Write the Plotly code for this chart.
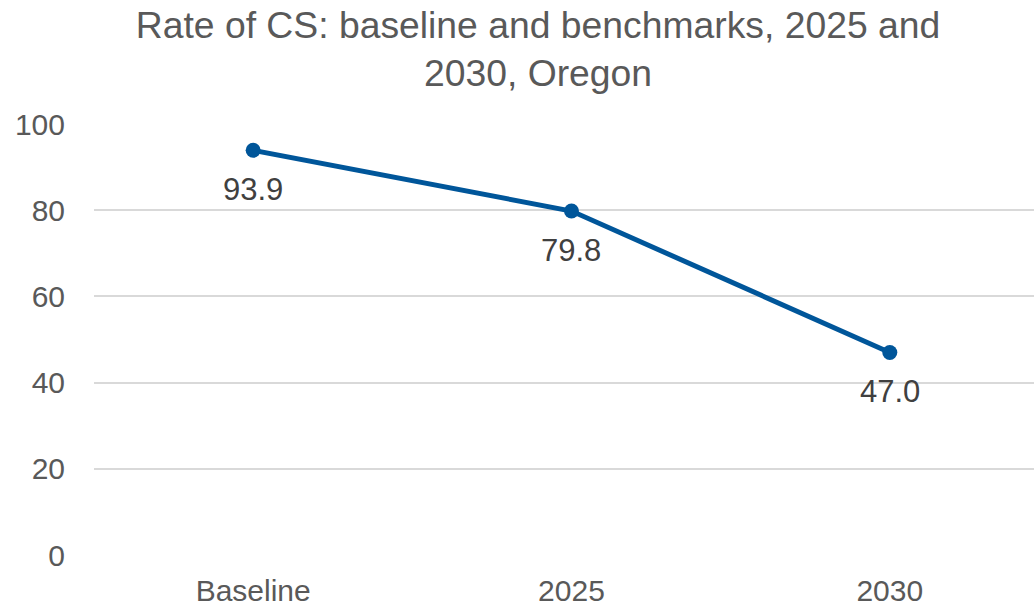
import plotly.graph_objects as go

categories = ["Baseline", "2025", "2030"]
values = [93.9, 79.8, 47.0]
y_ticks = [0, 20, 40, 60, 80, 100]

LINE = "#00569A"
fig = go.Figure()
fig.add_trace(go.Scatter(
    x=categories, y=values, mode="lines+markers",
    line=dict(color=LINE, width=5),
    marker=dict(color=LINE, size=15),
    hoverinfo="skip", showlegend=False,
))
for i, v in enumerate(values):
    fig.add_annotation(x=i, y=v, text=f"{v:.1f}", showarrow=False,
                       yshift=-39, font=dict(family="Liberation Sans, Arial", size=31, color="#404040"))

fig.update_layout(
    width=1034, height=605,
    margin=dict(l=94, r=0, t=124, b=50),
    paper_bgcolor="white", plot_bgcolor="white",
    title=dict(text="Rate of CS: baseline and benchmarks, 2025 and<br>2030, Oregon",
               x=538/1034, xanchor="center", xref="container",
               y=1 - 38/605, yanchor="top", yref="container",
               font=dict(family="Liberation Sans, Arial", size=37.3, color="#595959")),
    font=dict(family="Liberation Sans, Arial", size=30, color="#595959"),
)
fig.update_xaxes(type="category", range=[-0.5, 2.453], showgrid=False, showline=False,
                 ticks="", tickfont=dict(size=30, color="#595959"), ticklabelstandoff=15,
                 automargin=False)
fig.update_yaxes(range=[0, 100], tickvals=y_ticks, showgrid=True, gridcolor="#D9D9D9", gridwidth=2,
                 zeroline=False, showline=False, ticks="", ticklabelstandoff=28,
                 tickfont=dict(size=30, color="#595959"), automargin=False)
fig.write_html("out.html")
